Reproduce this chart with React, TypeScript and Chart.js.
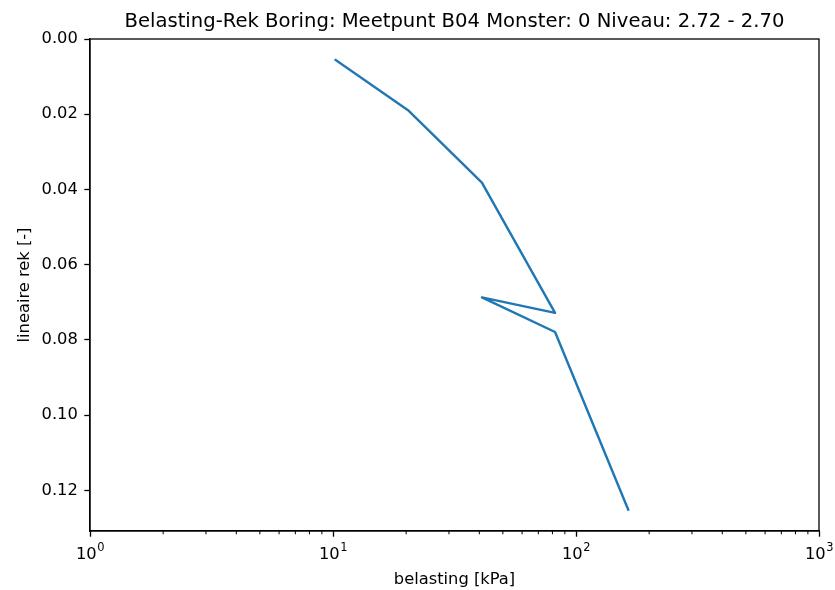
import React, { useEffect, useRef } from 'react';
import { Chart, registerables } from 'chart.js';

Chart.register(...registerables);

const TITLE = 'Belasting-Rek Boring: Meetpunt B04 Monster: 0 Niveau: 2.72 - 2.70';
const X_LABEL = 'belasting [kPa]';
const Y_LABEL = 'lineaire rek [-]';

const loads = [10.25, 20.5, 41, 82, 41, 82, 164];
const strains = [0.0056, 0.0191, 0.0382, 0.0728, 0.0687, 0.0779, 0.1251];

const xMajorTicks = [1, 10, 100, 1000];
const xTickBase = '10';
const xTickExponents = ['0', '1', '2', '3'];
const yTicks = [0, 0.02, 0.04, 0.06, 0.08, 0.1, 0.12];
const yTickLabels = ['0.00', '0.02', '0.04', '0.06', '0.08', '0.10', '0.12'];

const X_MIN = 1;
const X_MAX = 1000;
const Y_MIN = 0;
const Y_MAX = 0.1308;

const FONT = '"DejaVu Sans", sans-serif';
const LINE_COLOR = '#1f77b4';
const TICK_SIZE = 16.3;
const TITLE_SIZE = 19.6;

const xMinorTicks: number[] = [];
for (let d = 1; d < X_MAX; d *= 10) {
  for (let m = 2; m <= 9; m++) xMinorTicks.push(m * d);
}

const framePlugin = {
  id: 'mplFrame',
  afterDraw(chart: any) {
    const { ctx, chartArea, scales } = chart;
    const { left, top, right, bottom } = chartArea;
    ctx.save();
    // spines
    ctx.strokeStyle = '#000';
    ctx.lineWidth = 1.3;
    ctx.strokeRect(left, top, right - left, bottom - top);
    // minor ticks
    ctx.lineWidth = 1;
    const xs = scales.x;
    for (const v of xMinorTicks) {
      const px = xs.getPixelForValue(v);
      ctx.beginPath();
      ctx.moveTo(px, bottom);
      ctx.lineTo(px, bottom + 3.3);
      ctx.stroke();
    }
    // x tick labels with superscripts
    ctx.fillStyle = '#000';
    ctx.textBaseline = 'alphabetic';
    ctx.textAlign = 'left';
    xMajorTicks.forEach((v, i) => {
      const px = xs.getPixelForValue(v);
      ctx.font = `${TICK_SIZE}px ${FONT}`;
      const wb = ctx.measureText(xTickBase).width;
      ctx.font = `${TICK_SIZE * 0.7}px ${FONT}`;
      const we = ctx.measureText(xTickExponents[i]).width;
      const x0 = px - (wb + we) / 2;
      ctx.font = `${TICK_SIZE}px ${FONT}`;
      ctx.fillText(xTickBase, x0, bottom + 28);
      ctx.font = `${TICK_SIZE * 0.7}px ${FONT}`;
      ctx.fillText(xTickExponents[i], x0 + wb + 0.5, bottom + 20);
    });
    // title
    ctx.font = `${TITLE_SIZE}px ${FONT}`;
    ctx.textAlign = 'center';
    ctx.fillText(TITLE, (left + right) / 2, top - 12);
    ctx.restore();
  },
};

export default function App() {
  const canvasRef = useRef<HTMLCanvasElement | null>(null);

  useEffect(() => {
    const canvas = canvasRef.current;
    if (!canvas) return;
    const chart = new Chart(canvas, {
      type: 'line',
      data: {
        datasets: [
          {
            data: loads.map((x, i) => ({ x, y: strains[i] })),
            borderColor: LINE_COLOR,
            backgroundColor: LINE_COLOR,
            borderWidth: 2.4,
            pointRadius: 0,
            tension: 0,
            fill: false,
            borderJoinStyle: 'round',
            borderCapStyle: 'square',
          },
        ],
      },
      options: {
        responsive: false,
        animation: false,
        layout: { padding: { top: 39, right: 16, left: 0, bottom: 0 } },
        plugins: {
          legend: { display: false },
          title: { display: false },
          tooltip: { enabled: false },
        },
        scales: {
          x: {
            type: 'logarithmic',
            min: X_MIN,
            max: X_MAX,
            afterBuildTicks: (scale: any) => {
              scale.ticks = xMajorTicks.map((v) => ({ value: v, major: true }));
            },
            afterFit: (scale: any) => {
              scale.height = 59;
            },
            ticks: {
              autoSkip: false,
              maxRotation: 0,
              padding: 5,
              color: 'rgba(0,0,0,0)',
              font: { family: FONT, size: TICK_SIZE },
              callback: () => '',
            },
            grid: {
              drawOnChartArea: false,
              drawTicks: true,
              tickLength: 5.7,
              tickColor: '#000',
              tickWidth: 1.3,
            },
            border: { display: true, color: '#000', width: 1.3 },
            title: {
              display: true,
              text: X_LABEL,
              color: '#000',
              font: { family: FONT, size: TICK_SIZE },
              padding: { top: 0, bottom: 0 },
            },
          },
          y: {
            type: 'linear',
            reverse: true,
            min: Y_MIN,
            max: Y_MAX,
            afterBuildTicks: (scale: any) => {
              scale.ticks = yTicks.map((v) => ({ value: v }));
            },
            afterFit: (scale: any) => {
              scale.width = 90;
            },
            ticks: {
              autoSkip: false,
              padding: 6.5,
              color: '#000',
              font: { family: FONT, size: TICK_SIZE },
              callback: (value: any) => {
                const i = yTicks.findIndex((t) => Math.abs(t - Number(value)) < 1e-9);
                return i >= 0 ? yTickLabels[i] : '';
              },
            },
            grid: {
              drawOnChartArea: false,
              drawTicks: true,
              tickLength: 5.7,
              tickColor: '#000',
              tickWidth: 1.3,
            },
            border: { display: true, color: '#000', width: 1.3 },
            title: {
              display: true,
              text: Y_LABEL,
              color: '#000',
              font: { family: FONT, size: TICK_SIZE },
              padding: { top: 15, bottom: 0 },
            },
          },
        },
      },
      plugins: [framePlugin],
    } as any);
    return () => chart.destroy();
  }, []);

  return (
    <div style={{ position: 'fixed', left: 0, top: 0, width: 835, height: 590, background: '#fff' }}>
      <canvas ref={canvasRef} width={835} height={590} style={{ display: 'block' }} />
    </div>
  );
}
